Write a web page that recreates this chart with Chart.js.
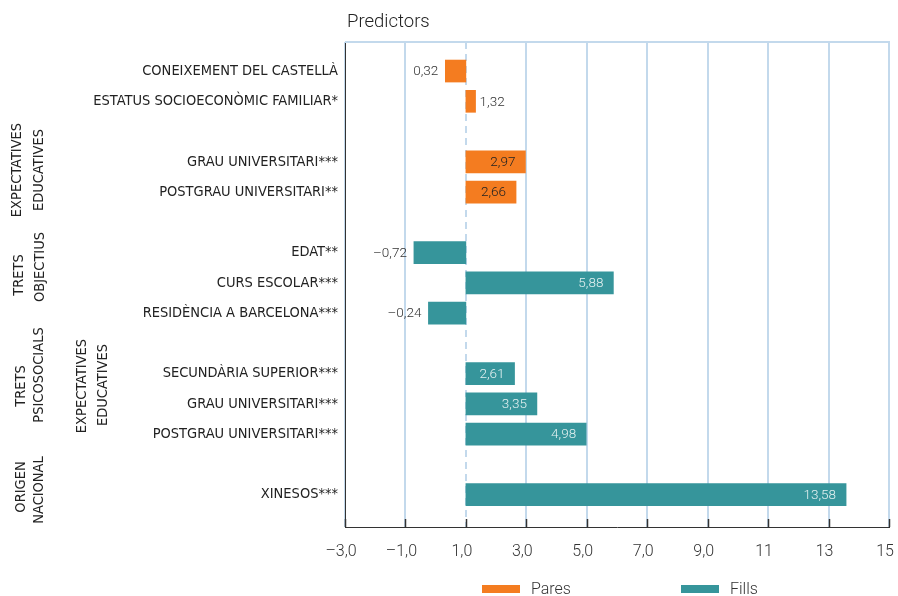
<!DOCTYPE html>
<html><head><meta charset="utf-8">
<script src="https://cdn.jsdelivr.net/npm/chart.js@4.4.1/dist/chart.umd.min.js"></script>
<style>html,body{margin:0;padding:0;background:#fff}</style>
</head><body>
<canvas id="c" width="898" height="596" style="display:block;width:898px;height:596px"></canvas>
<script>
// ---- data ----
const categories = [
  'CONEIXEMENT DEL CASTELLÀ',
  'ESTATUS SOCIOECONÒMIC FAMILIAR*',
  '',
  'GRAU UNIVERSITARI***',
  'POSTGRAU UNIVERSITARI**',
  '',
  'EDAT**',
  'CURS ESCOLAR***',
  'RESIDÈNCIA A BARCELONA***',
  '',
  'SECUNDÀRIA SUPERIOR***',
  'GRAU UNIVERSITARI***',
  'POSTGRAU UNIVERSITARI***',
  '',
  'XINESOS***'
];
const paresValues = [0.32, 1.32, null, 2.97, 2.66, null, null, null, null, null, null, null, null, null, null];
const fillsValues = [null, null, null, null, null, null, -0.72, 5.88, -0.24, null, 2.61, 3.35, 4.98, null, 13.58];
const seriesNames = ['Pares', 'Fills'];
const xTickValues = [-3, -1, 1, 3, 5, 7, 9, 11, 13, 15];
const xTickLabels = ['–3,0', '–1,0', '1,0', '3,0', '5,0', '7,0', '9,0', '11', '13', '15'];
const baseline = 1;
const axisTitle = 'Predictors';
const groupLabels = [
  { lines: ['EXPECTATIVES', 'EDUCATIVES'], xs: [17, 39], ys: [170, 170] },
  { lines: ['TRETS', 'OBJECTIUS'], xs: [19, 40], ys: [275, 267] },
  { lines: ['TRETS', 'PSICOSOCIALS'], xs: [21, 39], ys: [386, 375] },
  { lines: ['EXPECTATIVES', 'EDUCATIVES'], xs: [82, 103], ys: [386, 385] },
  { lines: ['ORIGEN', 'NACIONAL'], xs: [21, 39], ys: [487, 490] }
];

// ---- styles ----
const ORANGE = '#F47C20';
const TEAL = '#36959B';
const GRID = '#c3d9ec';
const NARROW = "'Liberation Sans Narrow','DejaVu Sans Condensed','Roboto Condensed',sans-serif";
const LIGHT = "Roboto,'Liberation Sans',sans-serif";

const toPoints = vals => vals.map((v, i) => v === null ? null : { y: i, x: [baseline, v] }).filter(p => p);
const fmt = v => (v < 0 ? '–' : '') + Math.abs(v).toFixed(2).replace('.', ',');

const decoPlugin = {
  id: 'deco',
  afterDraw(chart) {
    const ctx = chart.ctx, a = chart.chartArea, xs = chart.scales.x;
    ctx.save();
    // top border line
    ctx.strokeStyle = GRID; ctx.lineWidth = 2;
    ctx.beginPath(); ctx.moveTo(a.left, a.top); ctx.lineTo(a.right + 1, a.top); ctx.stroke();
    // inward tick marks
    ctx.strokeStyle = '#333'; ctx.lineWidth = 1.5;
    xs.ticks.forEach(t => {
      const px = Math.round(xs.getPixelForValue(t.value)) + 0.5;
      ctx.beginPath(); ctx.moveTo(px, a.bottom); ctx.lineTo(px, a.bottom - 8); ctx.stroke();
    });
    // title
    ctx.fillStyle = '#222';
    ctx.font = '300 18.5px ' + LIGHT;
    ctx.textAlign = 'left'; ctx.textBaseline = 'alphabetic';
    ctx.fillText(axisTitle, a.left + 2, 27);
    // value labels
    ctx.font = '300 13.5px ' + LIGHT;
    ctx.textBaseline = 'middle';
    chart.data.datasets.forEach((ds, di) => {
      const meta = chart.getDatasetMeta(di);
      meta.data.forEach((el, i) => {
        const v = ds.data[i].x[1];
        const end = el.x, base = el.base;
        const txt = fmt(v);
        if (v < baseline) {
          ctx.fillStyle = '#333'; ctx.textAlign = 'right';
          ctx.fillText(txt, Math.min(end, base) - 7, el.y + 1);
        } else if (end - base < 40) {
          ctx.fillStyle = '#333'; ctx.textAlign = 'left';
          ctx.fillText(txt, end + 4, el.y + 1);
        } else {
          ctx.fillStyle = di === 0 ? '#222' : '#e4f1f1'; ctx.textAlign = 'right';
          ctx.fillText(txt, end - 10, el.y + 1);
        }
      });
    });
    // group labels (rotated)
    ctx.fillStyle = '#222';
    ctx.font = '14.5px ' + NARROW;
    ctx.textAlign = 'center'; ctx.textBaseline = 'middle';
    groupLabels.forEach(g => {
      g.lines.forEach((line, k) => {
        ctx.save();
        ctx.translate(g.xs[k], g.ys[k]);
        ctx.rotate(-Math.PI / 2);
        ctx.fillText(line, 0, 0);
        ctx.restore();
      });
    });
    // legend
    const boxX = [482, 681];
    ctx.font = '300 16px ' + LIGHT;
    ctx.textAlign = 'left'; ctx.textBaseline = 'alphabetic';
    chart.data.datasets.forEach((ds, di) => {
      ctx.fillStyle = ds.backgroundColor;
      ctx.fillRect(boxX[di], 585, 38, 8);
      ctx.fillStyle = '#333';
      ctx.fillText(ds.label, boxX[di] + 49, 594);
    });
    ctx.restore();
  }
};

new Chart(document.getElementById('c'), {
  type: 'bar',
  data: {
    datasets: [
      { label: seriesNames[0], data: toPoints(paresValues), backgroundColor: ORANGE, barThickness: 22, grouped: false },
      { label: seriesNames[1], data: toPoints(fillsValues), backgroundColor: TEAL, barThickness: 22, grouped: false }
    ]
  },
  options: {
    indexAxis: 'y',
    responsive: false,
    animation: false,
    devicePixelRatio: 1,
    layout: { padding: { top: 42, left: 0, right: 9, bottom: 0 } },
    plugins: { legend: { display: false }, tooltip: { enabled: false }, title: { display: false } },
    scales: {
      x: {
        type: 'linear', position: 'bottom', min: -3, max: 15, offset: false,
        afterBuildTicks: s => { s.ticks = xTickValues.map(v => ({ value: v })); },
        afterFit: s => { s.height = 69; s.paddingLeft = 0; s.paddingRight = 0; },
        ticks: {
          autoSkip: false, maxRotation: 0, padding: 15, labelOffset: -4,
          color: '#333', font: { family: LIGHT, size: 16, weight: 300 },
          callback: v => xTickLabels[xTickValues.indexOf(v)]
        },
        grid: { color: GRID, lineWidth: 2, drawTicks: false, offset: false },
        border: { display: true, color: '#333', width: 1, dash: c => (c.tick && c.tick.value === baseline) ? [7, 5] : [] }
      },
      y: {
        type: 'linear', reverse: true, min: -0.96, max: 15.07, offset: false,
        afterBuildTicks: s => { s.ticks = categories.map((c, i) => ({ value: i })); },
        afterFit: s => { s.width = 345; s.paddingTop = 0; s.paddingBottom = 0; },
        ticks: {
          autoSkip: false, padding: 7, color: '#222',
          font: { family: NARROW, size: 14.5 },
          callback: v => categories[v]
        },
        grid: { display: false, drawTicks: false, offset: false },
        border: { display: true, color: '#333', width: 1 }
      }
    }
  },
  plugins: [decoPlugin]
});
</script>
</body></html>
